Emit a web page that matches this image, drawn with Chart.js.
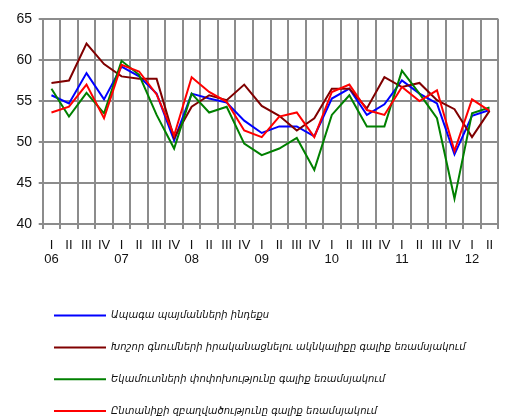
<!DOCTYPE html>
<html>
<head>
<meta charset="utf-8">
<script src="https://cdn.jsdelivr.net/npm/chart.js@4/dist/chart.umd.min.js"></script>
<style>
  html, body { margin: 0; padding: 0; background: #fff; overflow: hidden; }
  #wrap { width: 520px; height: 420px; overflow: hidden; }
</style>
</head>
<body>
<div id="wrap"><canvas id="c" width="520" height="426"></canvas></div>
<script>
// Quarter labels and year labels (year shown under each first quarter)
const quarters = ['I','II','III','IV','I','II','III','IV','I','II','III','IV','I','II','III','IV','I','II','III','IV','I','II','III','IV','I','II'];
const years    = ['06','','','','07','','','','08','','','','09','','','','10','','','','11','','','','12',''];

// Index series
const futureConditions = [55.7, 54.7, 58.4, 55.2, 59.2, 58.0, 55.9, 50.2, 55.9, 55.3, 54.8, 52.6, 51.1, 51.9, 51.9, 50.7, 55.3, 56.5, 53.3, 54.6, 57.5, 55.9, 54.7, 48.5, 53.2, 53.9];
const bigPurchases     = [57.2, 57.5, 62.0, 59.5, 58.0, 57.7, 57.7, 50.5, 54.3, 55.7, 55.1, 57.0, 54.4, 53.2, 51.4, 52.9, 56.5, 56.5, 54.1, 57.9, 56.7, 57.2, 55.1, 54.0, 50.6, 53.8];
const incomeChange     = [56.5, 53.1, 56.0, 53.5, 59.9, 58.2, 53.3, 49.2, 55.9, 53.6, 54.3, 49.8, 48.4, 49.2, 50.5, 46.6, 53.3, 55.7, 51.9, 51.9, 58.7, 55.9, 52.9, 43.1, 53.5, 54.2];
const employment       = [53.6, 54.3, 57.0, 52.9, 59.4, 58.6, 55.8, 50.8, 57.9, 56.1, 54.9, 51.4, 50.6, 53.1, 53.6, 50.6, 56.1, 57.0, 53.9, 53.3, 56.7, 55.0, 56.3, 48.9, 55.2, 53.8];

const seriesNames = [
  'Ապագա պայմանների ինդեքս',
  'Խոշոր գնումների իրականացնելու ակնկալիքը գալիք եռամսյակում',
  'Եկամուտների փոփոխությունը գալիք եռամսյակում',
  'Ընտանիքի զբաղվածությունը գալիք եռամսյակում'
];
const yTicks = [40, 45, 50, 55, 60, 65];

const labels = quarters.map((q, i) => [q, years[i]]);

function ds(label, data, color, order) {
  return {
    label, data,
    borderColor: color, backgroundColor: color,
    borderWidth: 2, pointRadius: 0, pointHoverRadius: 0,
    tension: 0, fill: false, order
  };
}

const CANVAS_H = 426;
const LEGEND_FONT = 10;
const LEGEND_PAD = 21.8;
const LEGEND_H = 4 * (LEGEND_FONT + LEGEND_PAD) + 10;
const CHART_LEFT = 42.7, CHART_BOTTOM = 224, PAD_LEFT = 32.2;

new Chart(document.getElementById('c'), {
  type: 'line',
  data: {
    labels,
    datasets: [
      ds(seriesNames[0], futureConditions, '#0000ff', 4),
      ds(seriesNames[1], bigPurchases, '#800000', 3),
      ds(seriesNames[2], incomeChange, '#008000', 2),
      ds(seriesNames[3], employment, '#ff0000', 1)
    ]
  },
  options: {
    responsive: false,
    animation: false,
    events: [],
    layout: { padding: { top: 19, left: PAD_LEFT, right: 21.7, bottom: 0 } },
    plugins: {
      tooltip: { enabled: false },
      legend: {
        position: 'bottom',
        align: 'start',
        labels: {
          boxWidth: 52,
          boxHeight: 2,
          padding: LEGEND_PAD,
          color: '#111',
          font: { family: '"DejaVu Sans", sans-serif', size: LEGEND_FONT, style: 'italic' },
          sort: (a, b) => a.datasetIndex - b.datasetIndex,
          generateLabels: (chart) => {
            const items = Chart.defaults.plugins.legend.labels.generateLabels(chart);
            items.forEach(it => { it.lineWidth = 0; it.fillStyle = it.strokeStyle; });
            return items;
          }
        }
      }
    },
    scales: {
      x: {
        offset: true,
        grid: { offset: true, color: '#8c8c8c', lineWidth: 2, tickLength: 5, drawTicks: true },
        border: { color: '#8c8c8c', width: 2 },
        ticks: {
          autoSkip: false, maxRotation: 0, minRotation: 0,
          padding: 8.8, color: '#111',
          font: { family: '"Liberation Sans", Arial, sans-serif', size: 13, lineHeight: 1.1 }
        },
        afterFit: (axis) => { axis.height = CANVAS_H - LEGEND_H - CHART_BOTTOM; }
      },
      y: {
        min: 40, max: 65,
        afterBuildTicks: (axis) => { axis.ticks = yTicks.map(v => ({ value: v })); },
        grid: { color: '#8c8c8c', lineWidth: 2, tickLength: 4 },
        border: { color: '#8c8c8c', width: 2 },
        ticks: {
          // labels sit to the left of the narrow axis box, right edge at x≈32
          mirror: true,
          padding: -26.3,
          color: '#111',
          font: { family: '"Liberation Sans", Arial, sans-serif', size: 14 }
        },
        afterFit: (axis) => { axis.width = CHART_LEFT - PAD_LEFT; }
      }
    }
  }
});
</script>
</body>
</html>
